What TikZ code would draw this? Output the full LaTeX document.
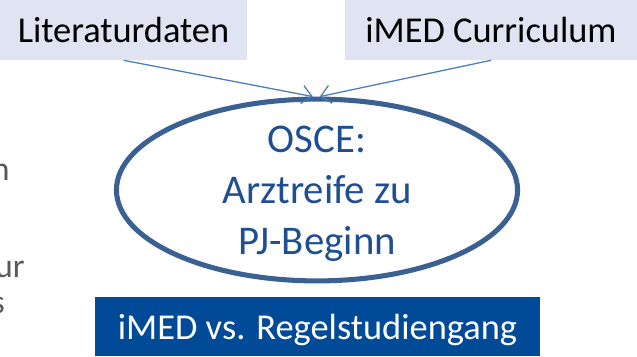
\documentclass[tikz,border=0pt]{standalone}
\usepackage{fontspec}
\setmainfont{Carlito}
\usetikzlibrary{shapes.geometric,arrows.meta,positioning}

\definecolor{boxlav}{HTML}{E0E3F1}
\definecolor{ovalline}{HTML}{3B6193}
\definecolor{ovalblue}{HTML}{1F4E91}
\definecolor{imedblue}{HTML}{004A98}
\definecolor{feedline}{HTML}{4A7EBB}
\definecolor{sidegray}{HTML}{595959}

\newcommand{\bigtext}{\fontsize{25.9}{31.6}\selectfont}
\newcommand{\ovalfont}{\fontsize{29}{36.3}\selectfont}
\newcommand{\sidefont}{\fontsize{24}{29}\selectfont}

\tikzset{
  sourcebox/.style={fill=boxlav, minimum height=1.5cm, inner sep=0pt, font=\bigtext, text=black},
  feed/.style={draw=feedline, line width=0.9pt, -{Straight Barb[length=7pt,width=13pt]}},
  sidetext/.style={text=sidegray, font=\sidefont, anchor=base east, inner sep=0pt}
}

\begin{document}
\begin{tikzpicture}[x=0.025cm, y=-0.025cm]
	\useasboundingbox (0,0) rectangle (637,356);
	\clip (0,0) rectangle (637,356);
	% Draw the two sources at the top
	\node [sourcebox, minimum width=6.175cm] (lit) at (123.5,30) {Literaturdaten};
	\node [sourcebox, minimum width=7.3cm] (cur) at (491,30) {iMED Curriculum};
	% Draw the exam oval
	\node [ellipse, draw=ovalline, line width=3.6pt, minimum width=10.025cm, minimum height=4.475cm,
	       inner sep=0pt, text=ovalblue, font=\ovalfont, align=center, text depth=0pt] (osce) at (317,190)
	      {OSCE:\\Arztreife zu\\PJ-Beginn};
	% Draw the comparison bar
	\node [fill=imedblue, text=white, font=\bigtext, text depth=0pt, minimum width=11.125cm,
	       minimum height=1.475cm, inner sep=0pt] (cmp) at (317.5,326.5) {iMED vs. Regelstudiengang};
	% the arrows into the oval
	\draw [feed] (lit.south) -- ([xshift=-3pt]osce.north);
	\draw [feed] (cur.south) -- ([xshift=2pt]osce.north);
	% cut text at the left edge
	\node [sidetext] (sidea) at (10,180) {n};
	\node [sidetext] (sideb) at (25,277) {ur};
	\node [sidetext] (sidec) at (5,313) {s};
\end{tikzpicture}
\end{document}
